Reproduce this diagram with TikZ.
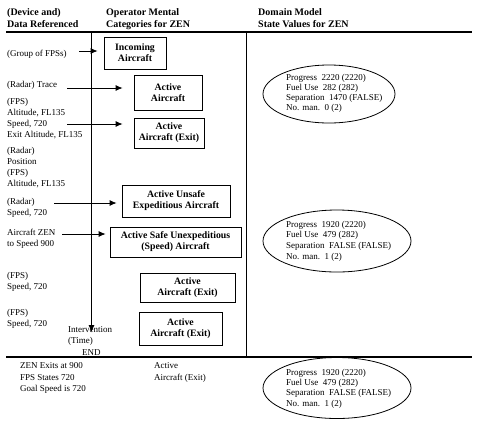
\documentclass[tikz,border=0pt]{standalone}
\usepackage{fontspec}
\setmainfont{Liberation Serif}
\usetikzlibrary{shapes.geometric,arrows.meta}
\begin{document}
\begin{tikzpicture}[x=1pt,y=-1pt,
  hdr/.style={inner sep=0pt, anchor=base west, align=left, font=\bfseries\fontsize{10}{12}\selectfont},
  reg/.style={inner sep=0pt, anchor=base west, align=left, font=\fontsize{9}{11}\selectfont},
  ell/.style={inner sep=0pt, anchor=west, align=left, font=\fontsize{9}{#1}\selectfont},
  cat/.style={draw, line width=0.8pt, rectangle, inner sep=0pt, align=center, font=\bfseries\fontsize{9.8}{11}\selectfont},
  oval/.style={draw, ellipse, inner sep=0pt, line width=0.8pt},
  arr/.style={-{Latex[length=7pt,width=6pt]}, line width=0.8pt},
  rule/.style={line width=1.2pt},
  vrule/.style={line width=0.9pt}]
\useasboundingbox (0,0) rectangle (484,432);
\fill[white] (0,0) rectangle (484,432);

% headers (anchor = baseline of last line)
\node[hdr] (h1) at (7,27) {(Device and)\\Data Referenced};
\node[hdr] (h2) at (106,27) {Operator Mental\\Categories for ZEN};
\node[hdr] (h3) at (258,27) {Domain Model\\State Values for ZEN};

% rules
\coordinate (tl) at (6,32);
\coordinate (tr) at (472,32);
\coordinate (bl) at (6,357);
\coordinate (br) at (472,357);
\coordinate (vt) at (246,32);
\coordinate (vb) at (246,357);
\coordinate (tt) at (91.5,32);
\coordinate (tb) at (91.5,332);
\draw[rule] (tl) -- (tr);
\draw[rule] (bl) -- (br);
\draw[vrule] (vt) -- (vb);
\draw[arr] (tt) -- (tb);

% left column (anchor = baseline of last line)
\node[reg] (l1) at (7,56) {(Group of FPSs)};
\node[reg] (l2) at (7,87) {(Radar) Trace};
\node[reg] (l3) at (7,137) {(FPS)\\Altitude, FL135\\Speed, 720\\Exit Altitude, FL135};
\node[reg] (l4) at (7,186) {(Radar)\\Position\\(FPS)\\Altitude, FL135};
\node[reg] (l5) at (7,215) {(Radar)\\Speed, 720};
\node[reg] (l6) at (7,246) {Aircraft ZEN\\to Speed 900};
\node[reg] (l7) at (7,289) {(FPS)\\Speed, 720};
\node[reg] (l8) at (7,326) {(FPS)\\Speed, 720};
\node[reg] (iv) at (68,343) {Intervention\\(Time)};
\node[reg] (end) at (82,355) {END};

% category boxes
\node[cat, minimum width=62pt, minimum height=32pt] (b1) at (135,53) {Incoming\\Aircraft};
\node[cat, minimum width=68pt, minimum height=35pt] (b2) at (168,92.5) {Active\\Aircraft};
\node[cat, minimum width=70pt, minimum height=30pt] (b3) at (169,133) {Active\\Aircraft (Exit)};
\node[cat, minimum width=108pt, minimum height=32pt] (b4) at (176,201) {Active Unsafe\\Expeditious Aircraft};
\node[cat, minimum width=131pt, minimum height=30pt] (b5) at (175.5,242) {Active Safe Unexpeditious\\(Speed) Aircraft};
\node[cat, minimum width=95pt, minimum height=29pt] (b6) at (187.5,287.5) {Active\\Aircraft (Exit)};
\node[cat, minimum width=83pt, minimum height=33pt] (b7) at (180.5,328.5) {Active\\Aircraft (Exit)};

% arrows
\coordinate (a1) at (79,51);
\coordinate (a2) at (67,88);
\coordinate (a3) at (67,124);
\coordinate (a4) at (54,203);
\coordinate (a5) at (62,234);
\draw[arr] (a1) -- ([xshift=-6pt]b1.west |- a1);
\draw[arr] (a2) -- ([xshift=-11pt]b2.west |- a2);
\draw[arr] (a3) -- ([xshift=-11pt]b3.west |- a3);
\draw[arr] (a4) -- ([xshift=-5pt]b4.west |- a4);
\draw[arr] (a5) -- ([xshift=-4pt]b5.west |- a5);

% ellipses
\node[oval, minimum width=132pt, minimum height=58pt] (e1) at (329,94) {};
\node[ell=9.8] (t1) at (286,93.5) {Progress\ \ 2220 (2220)\\Fuel Use\ \ 282 (282)\\Separation\ \ 1470 (FALSE)\\No. man.\ \ 0 (2)};
\node[oval, minimum width=148pt, minimum height=62pt] (e2) at (337,241) {};
\node[ell=10.6] (t2) at (286,241) {Progress\ \ 1920 (2220)\\Fuel Use\ \ 479 (282)\\Separation\ \ FALSE (FALSE)\\No. man.\ \ 1 (2)};
\node[oval, minimum width=148pt, minimum height=61pt] (e3) at (337,388) {};
\node[ell=10.4] (t3) at (286,388.5) {Progress\ \ 1920 (2220)\\Fuel Use\ \ 479 (282)\\Separation\ \ FALSE (FALSE)\\No. man.\ \ 1 (2)};

% bottom row
\node[reg, font=\fontsize{9}{11.5}\selectfont] (z1) at (20,391.5) {ZEN Exits at 900\\FPS States 720\\Goal Speed is 720};
\node[reg, font=\fontsize{9}{11.5}\selectfont] (z2) at (154,380) {Active\\Aircraft (Exit)};
\end{tikzpicture}
\end{document}
